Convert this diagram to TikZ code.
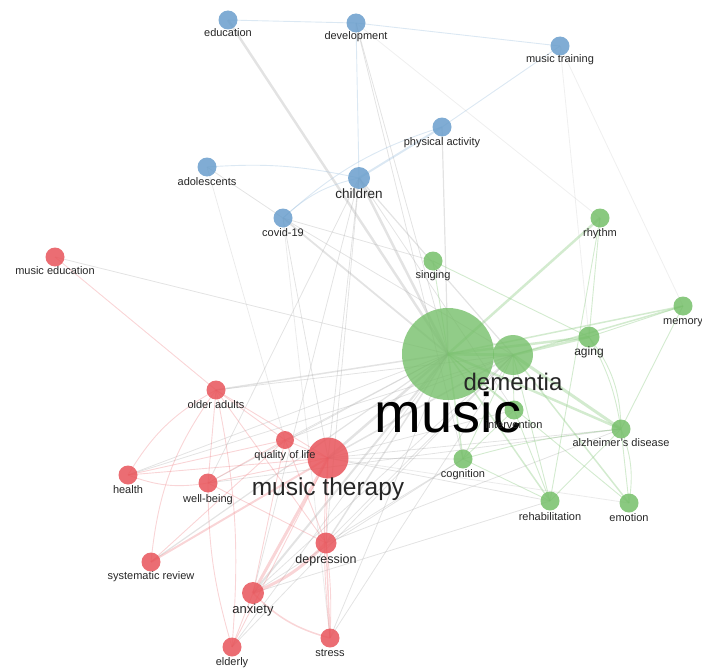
\documentclass[tikz,border=0pt]{standalone}
\usepackage{fontspec}
\setmainfont{Liberation Sans}
\usepackage{tikz}
\usetikzlibrary{backgrounds}

\definecolor{vosblue}{RGB}{106,158,204}
\definecolor{vosred}{RGB}{232,84,90}
\definecolor{vosgreen}{RGB}{118,191,106}
\definecolor{edgegrey}{RGB}{175,175,175}

\begin{document}
\begin{tikzpicture}[x=1pt,y=-1pt,
kw/.style={
circle,
inner sep=0pt,
draw=none,
fill opacity=0.85
},
bluekw/.style={kw,fill=vosblue},
redkw/.style={kw,fill=vosred},
greenkw/.style={kw,fill=vosgreen},
lbl/.style={
anchor=base,
inner sep=0pt,
text=black!85,
font=\fontsize{11}{13}\selectfont
},
greyedge/.style={draw=edgegrey,opacity=0.35,line width=0.8pt},
blueedge/.style={draw=vosblue!60,opacity=0.4,line width=0.9pt},
rededge/.style={draw=vosred!70,opacity=0.35,line width=0.9pt},
greenedge/.style={draw=vosgreen!80,opacity=0.4,line width=0.9pt}
]

\useasboundingbox (0,0) rectangle (702,669);

\node[bluekw,minimum size=19pt] (edu) at (228,20) {};
\node[bluekw,minimum size=19pt] (dev) at (356,23) {};
\node[bluekw,minimum size=19pt] (mtrain) at (560,46) {};
\node[bluekw,minimum size=19pt] (phys) at (442,127) {};
\node[bluekw,minimum size=19pt] (adol) at (207,167) {};
\node[bluekw,minimum size=22pt] (child) at (359,178) {};
\node[bluekw,minimum size=19pt] (covid) at (283,218) {};

\node[redkw,minimum size=19pt] (medu) at (55,257) {};
\node[redkw,minimum size=19pt] (older) at (216,390) {};
\node[redkw,minimum size=18pt] (qol) at (285,440) {};
\node[redkw,minimum size=41pt] (mther) at (328,458) {};
\node[redkw,minimum size=19pt] (health) at (128,475) {};
\node[redkw,minimum size=19pt] (wellb) at (208,483) {};
\node[redkw,minimum size=19pt] (sysrev) at (151,562) {};
\node[redkw,minimum size=21pt] (depr) at (326,543) {};
\node[redkw,minimum size=22pt] (anx) at (253,593) {};
\node[redkw,minimum size=19pt] (elderly) at (232,647) {};
\node[redkw,minimum size=19pt] (stress) at (330,638) {};

\node[greenkw,minimum size=92pt,fill opacity=0.8] (music) at (448,354) {};
\node[greenkw,minimum size=40pt,fill opacity=0.8] (dem) at (513,355) {};
\node[greenkw,minimum size=19pt] (sing) at (433,261) {};
\node[greenkw,minimum size=19pt] (rhythm) at (600,218) {};
\node[greenkw,minimum size=21pt] (aging) at (589,337) {};
\node[greenkw,minimum size=19pt] (memory) at (683,306) {};
\node[greenkw,minimum size=19pt] (interv) at (514,410) {};
\node[greenkw,minimum size=19pt] (alz) at (621,429) {};
\node[greenkw,minimum size=19pt] (cogn) at (463,459) {};
\node[greenkw,minimum size=19pt] (rehab) at (550,501) {};
\node[greenkw,minimum size=19pt] (emotion) at (629,503) {};

\node[lbl] (eduL) at (228,37) {education};
\node[lbl] (devL) at (356,40) {development};
\node[lbl] (mtrainL) at (560,63) {music training};
\node[lbl] (physL) at (442,145) {physical activity};
\node[lbl] (adolL) at (207,185) {adolescents};
\node[lbl,font=\fontsize{13.5}{15}\selectfont] (childL) at (359,198) {children};
\node[lbl] (covidL) at (283,236) {covid-19};

\node[lbl] (meduL) at (55,274) {music education};
\node[lbl] (olderL) at (216,408) {older adults};
\node[lbl] (qolL) at (285,458) {quality of life};
\node[lbl,font=\fontsize{24.5}{28}\selectfont] (mtherL) at (328,495) {music therapy};
\node[lbl] (healthL) at (128,493) {health};
\node[lbl] (wellbL) at (208,502) {well-being};
\node[lbl] (sysrevL) at (151,579) {systematic review};
\node[lbl,font=\fontsize{12.5}{15}\selectfont] (deprL) at (326,563) {depression};
\node[lbl,font=\fontsize{13}{15}\selectfont] (anxL) at (253,613) {anxiety};
\node[lbl] (elderlyL) at (232,665) {elderly};
\node[lbl] (stressL) at (330,656) {stress};

\node[lbl,font=\fontsize{56}{60}\selectfont,text=black] (musicL) at (448,432) {music};
\node[lbl,font=\fontsize{24}{28}\selectfont] (demL) at (513,390) {dementia};
\node[lbl] (singL) at (433,278) {singing};
\node[lbl] (rhythmL) at (600,236) {rhythm};
\node[lbl,font=\fontsize{12}{14}\selectfont] (agingL) at (589,355) {aging};
\node[lbl] (memoryL) at (683,324) {memory};
\node[lbl] (intervL) at (514,428) {intervention};
\node[lbl] (alzL) at (621,446) {alzheimer's disease};
\node[lbl] (cognL) at (463,477) {cognition};
\node[lbl] (rehabL) at (550,520) {rehabilitation};
\node[lbl] (emotionL) at (629,521) {emotion};

\begin{scope}[on background layer]
\draw[greyedge,line width=2.5pt] (edu.center) -- (music.center);
\draw[greyedge] (dev.center) -- (music.center);
\draw[greyedge] (dev.center) -- (cogn.center);
\draw[greyedge,opacity=0.2] (dev.center) -- (rhythm.center);
\draw[greyedge,opacity=0.2] (mtrain.center) -- (aging.center);
\draw[greyedge,opacity=0.2] (mtrain.center) -- (memory.center);
\draw[greyedge,line width=1.2pt] (phys.center) -- (music.center);
\draw[greyedge] (adol.center) -- (covid.center);
\draw[greyedge,opacity=0.25] (adol.center) -- (qol.center);
\draw[greyedge,line width=2.5pt] (child.center) -- (music.center);
\draw[greyedge,line width=1.2pt] (child.center) -- (dem.center);
\draw[greyedge] (child.center) -- (mther.center);
\draw[greyedge] (child.center) -- (wellb.center);
\draw[greyedge] (child.center) -- (depr.center);
\draw[greyedge] (child.center) -- (anx.center);
\draw[greyedge] (child.center) -- (interv.center);
\draw[greyedge,line width=1.8pt] (covid.center) -- (music.center);
\draw[greyedge] (covid.center) -- (dem.center);
\draw[greyedge] (covid.center) -- (mther.center);
\draw[greyedge] (covid.center) -- (sing.center);
\draw[greyedge,opacity=0.25] (covid.center) -- (stress.center);
\draw[greyedge] (medu.center) -- (music.center);
\draw[greyedge,line width=1.5pt] (older.center) -- (music.center);
\draw[greyedge] (older.center) -- (dem.center);
\draw[greyedge] (qol.center) -- (music.center);
\draw[greyedge] (qol.center) -- (dem.center);
\draw[greyedge,line width=2.5pt] (mther.center) -- (music.center);
\draw[greyedge,line width=1.5pt] (mther.center) -- (dem.center);
\draw[greyedge] (mther.center) -- (cogn.center);
\draw[greyedge] (mther.center) -- (rehab.center);
\draw[greyedge] (mther.center) -- (alz.center);
\draw[greyedge] (mther.center) -- (interv.center);
\draw[greyedge,opacity=0.25] (mther.center) -- (emotion.center);
\draw[greyedge] (health.center) -- (music.center);
\draw[greyedge] (health.center) -- (dem.center);
\draw[greyedge] (wellb.center) -- (music.center);
\draw[greyedge] (wellb.center) -- (alz.center);
\draw[greyedge,line width=1.2pt] (sysrev.center) -- (music.center);
\draw[greyedge,line width=1.5pt] (depr.center) -- (music.center);
\draw[greyedge] (depr.center) -- (dem.center);
\draw[greyedge] (depr.center) -- (cogn.center);
\draw[greyedge] (depr.center) -- (alz.center);
\draw[greyedge,line width=2pt] (anx.center) -- (music.center);
\draw[greyedge] (anx.center) -- (dem.center);
\draw[greyedge] (anx.center) -- (cogn.center);
\draw[greyedge] (anx.center) -- (rehab.center);
\draw[greyedge] (stress.center) -- (music.center);
\draw[greyedge] (stress.center) -- (dem.center);
\draw[greyedge] (elderly.center) -- (music.center);
\draw[greyedge] (elderly.center) -- (dem.center);

\draw[blueedge] (edu.center) -- (dev.center);
\draw[blueedge] (dev.center) -- (mtrain.center);
\draw[blueedge] (dev.center) -- (child.center);
\draw[blueedge] (mtrain.center) -- (phys.center);
\draw[blueedge,line width=2pt] (phys.center) -- (child.center);
\draw[blueedge] (adol.center) to[bend left=8] (child.center);
\draw[blueedge] (covid.center) to[bend left=15] (child.center);
\draw[blueedge] (covid.center) to[bend left=12] (phys.center);

\draw[rededge] (medu.center) -- (older.center);
\draw[rededge] (older.center) -- (qol.center);
\draw[rededge] (older.center) -- (mther.center);
\draw[rededge] (older.center) to[bend right=15] (health.center);
\draw[rededge] (older.center) -- (wellb.center);
\draw[rededge] (older.center) to[bend right=15] (sysrev.center);
\draw[rededge] (older.center) -- (depr.center);
\draw[rededge] (older.center) to[bend left=8] (elderly.center);
\draw[rededge] (qol.center) -- (mther.center);
\draw[rededge] (qol.center) -- (health.center);
\draw[rededge] (qol.center) -- (wellb.center);
\draw[rededge] (qol.center) -- (sysrev.center);
\draw[rededge] (qol.center) -- (depr.center);
\draw[rededge] (qol.center) -- (anx.center);
\draw[rededge] (health.center) -- (mther.center);
\draw[rededge] (health.center) to[bend right=15] (wellb.center);
\draw[rededge] (wellb.center) -- (mther.center);
\draw[rededge] (wellb.center) -- (depr.center);
\draw[rededge] (wellb.center) to[bend right=8] (elderly.center);
\draw[rededge,line width=2pt] (sysrev.center) -- (mther.center);
\draw[rededge] (mther.center) -- (depr.center);
\draw[rededge,line width=3pt] (mther.center) -- (anx.center);
\draw[rededge] (mther.center) to[bend right=5] (stress.center);
\draw[rededge] (mther.center) -- (elderly.center);
\draw[rededge,line width=3pt] (anx.center) to[bend right=12] (depr.center);
\draw[rededge,line width=1.5pt] (anx.center) to[bend right=15] (stress.center);
\draw[rededge] (anx.center) -- (elderly.center);
\draw[rededge,line width=1.5pt] (depr.center) -- (stress.center);
\draw[rededge] (depr.center) to[bend left=5] (stress.center);

\draw[greenedge,line width=3pt] (music.center) -- (dem.center);
\draw[greenedge] (music.center) -- (sing.center);
\draw[greenedge,line width=2.5pt] (music.center) -- (rhythm.center);
\draw[greenedge,line width=2.5pt] (music.center) -- (aging.center);
\draw[greenedge,line width=1.5pt] (music.center) -- (memory.center);
\draw[greenedge,line width=1.5pt] (music.center) -- (interv.center);
\draw[greenedge,line width=2.5pt] (music.center) -- (alz.center);
\draw[greenedge,line width=1.5pt] (music.center) -- (cogn.center);
\draw[greenedge,line width=1.5pt] (music.center) -- (rehab.center);
\draw[greenedge] (music.center) -- (emotion.center);
\draw[greenedge,line width=2.5pt] (dem.center) -- (aging.center);
\draw[greenedge,line width=1.5pt] (dem.center) -- (memory.center);
\draw[greenedge,line width=3pt] (dem.center) -- (alz.center);
\draw[greenedge] (dem.center) -- (interv.center);
\draw[greenedge] (dem.center) -- (cogn.center);
\draw[greenedge] (dem.center) -- (rehab.center);
\draw[greenedge,line width=1.5pt] (dem.center) -- (emotion.center);
\draw[greenedge] (sing.center) -- (aging.center);
\draw[greenedge] (rhythm.center) -- (aging.center);
\draw[greenedge] (rhythm.center) -- (rehab.center);
\draw[greenedge] (aging.center) -- (memory.center);
\draw[greenedge] (aging.center) to[bend left=10] (alz.center);
\draw[greenedge] (aging.center) to[bend left=18] (alz.center);
\draw[greenedge] (memory.center) -- (alz.center);
\draw[greenedge] (alz.center) -- (emotion.center);
\draw[greenedge] (alz.center) to[bend left=15] (emotion.center);
\draw[greenedge] (alz.center) -- (rehab.center);
\draw[greenedge] (alz.center) to[bend right=5] (cogn.center);
\draw[greenedge] (interv.center) -- (cogn.center);
\draw[greenedge] (interv.center) -- (rehab.center);
\draw[greenedge] (cogn.center) -- (rehab.center);
\end{scope}

\end{tikzpicture}
\end{document}
